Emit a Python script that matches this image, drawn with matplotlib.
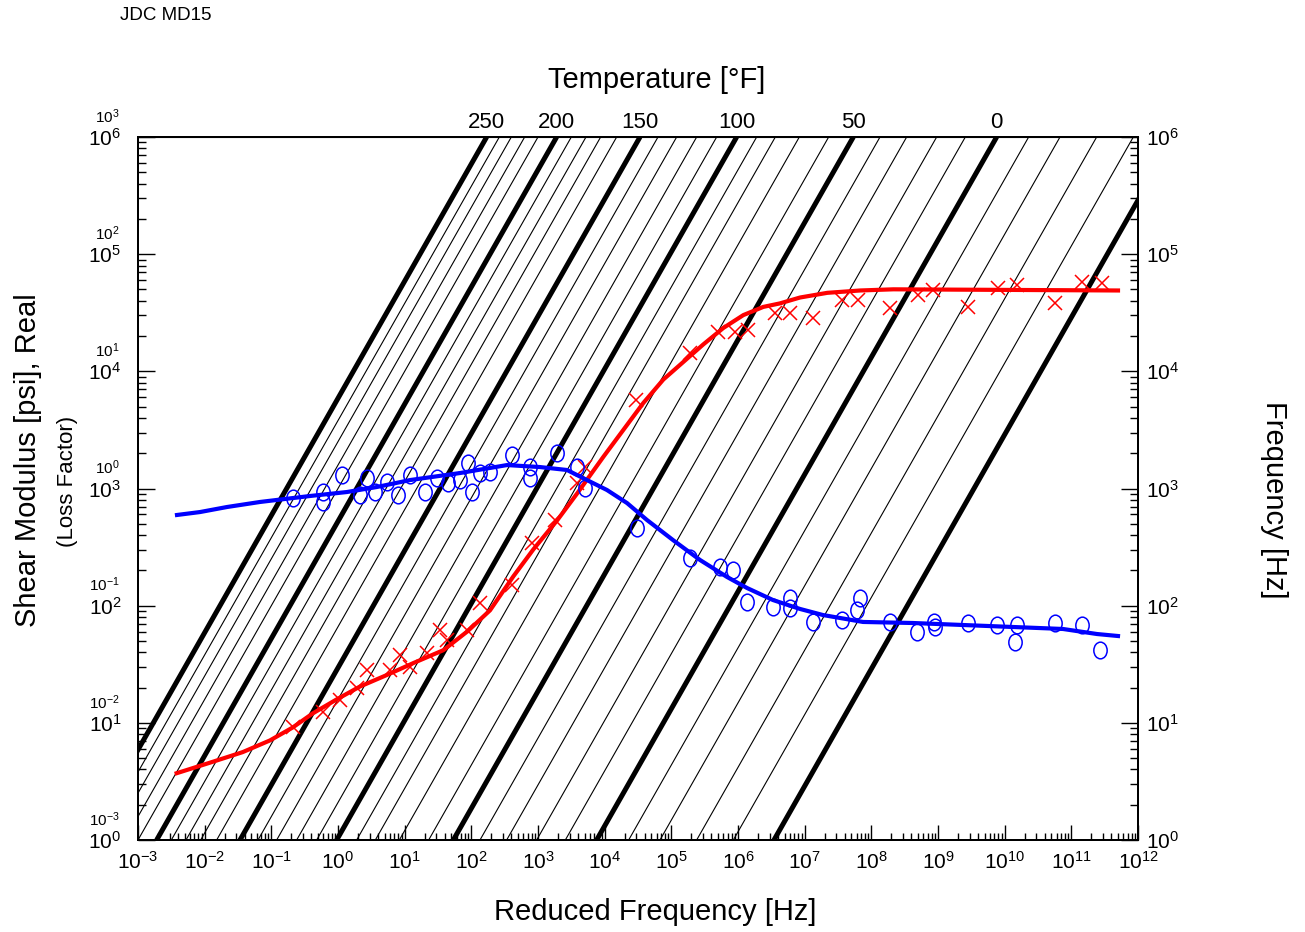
import matplotlib
matplotlib.use("Agg")
import matplotlib.pyplot as plt
import matplotlib.transforms as mtransforms
from matplotlib.path import Path
from matplotlib.ticker import LogLocator, NullLocator, NullFormatter
import numpy as np

plt.rcParams["font.family"] = ["Liberation Sans", "DejaVu Sans"]
plt.rcParams["mathtext.default"] = "regular"

# iso-temperature lines of the nomogram: temperature [F] and log10 of shift factor aT
TEMPS_F = [250, 240, 230, 220, 210, 200, 190, 180, 170, 160, 150, 140, 130, 120, 110,
           100, 90, 80, 70, 60, 50, 40, 30, 20, 10, 0, -10, -20, -30, -40, -50]
LOG_AT = [-3.77, -3.58, -3.40, -3.20, -3.00, -2.72, -2.50, -2.28, -2.06, -1.82, -1.47,
          -1.20, -0.92, -0.62, -0.32, -0.02, 0.28, 0.56, 0.92, 1.36, 1.73, 2.13, 2.53,
          2.98, 3.41, 3.88, 4.36, 4.83, 5.38, 5.93, 6.54]
LABELED_TEMPS = [250, 200, 150, 100, 50, 0]

# storage modulus fit (red line), log10 reduced frequency / log10 G [psi]
RED_FIT_LOGFR = [-2.42, -1.92, -1.43, -1.02, -0.68, -0.38, -0.02, 0.33, 0.74, 1.13, 1.58,
                 1.94, 2.28, 2.63, 2.93, 3.29, 3.59, 3.98, 4.28, 4.58, 4.88, 5.18, 5.48,
                 5.78, 6.08, 6.38, 6.63, 6.93, 7.34, 7.83, 8.33, 11.70]
RED_FIT_LOGG = [0.57, 0.66, 0.75, 0.85, 0.96, 1.08, 1.20, 1.31, 1.41, 1.51, 1.62,
                1.78, 1.96, 2.25, 2.48, 2.73, 2.96, 3.27, 3.50, 3.73, 3.93, 4.08, 4.23,
                4.37, 4.48, 4.55, 4.58, 4.63, 4.67, 4.69, 4.70, 4.69]

# measured storage modulus (red x)
RED_PTS_LOGFR = [-0.675, -0.225, 0.03, 0.285, 0.435, 0.78, 0.93, 1.08, 1.335, 1.53, 1.635,
                 1.935, 2.13, 2.61, 2.91, 3.255, 3.585, 3.705, 4.47, 5.28, 5.7, 5.955,
                 6.15, 6.555, 6.78, 7.125, 7.56, 7.8, 8.28, 8.7, 8.925, 9.45, 9.9, 10.185,
                 10.755, 11.16, 11.46]
RED_PTS_LOGG = [0.964, 1.092, 1.195, 1.297, 1.451, 1.451, 1.579, 1.476, 1.596, 1.792, 1.707,
                1.792, 2.023, 2.176, 2.535, 2.731, 3.047, 3.183, 3.755, 4.156, 4.336, 4.336,
                4.353, 4.498, 4.498, 4.455, 4.609, 4.609, 4.54, 4.651, 4.694, 4.549, 4.711,
                4.737, 4.583, 4.762, 4.754]

# loss factor fit (blue line), log10 reduced frequency / log10 eta
BLUE_FIT_LOGFR = [-2.415, -2.07, -1.665, -1.17, -0.42, 0.135, 0.585, 1.08, 1.83, 2.535, 3.03,
                  3.435, 3.735, 4.035, 4.335, 4.635, 5.025, 5.43, 5.835, 6.135, 6.525, 6.93,
                  7.275, 7.875, 8.625, 10.125, 10.875, 11.385, 11.7]
BLUE_FIT_LOGETA = [-0.226, -0.201, -0.158, -0.115, -0.064, -0.030, 0.013, 0.072, 0.132, 0.200,
                   0.183, 0.158, 0.072, -0.013, -0.124, -0.269, -0.440, -0.610, -0.755, -0.849,
                   -0.952, -1.028, -1.080, -1.139, -1.148, -1.182, -1.199, -1.242, -1.259]

# measured loss factor (blue o)
BLUE_PTS_LOGFR = [-0.675, -0.225, -0.225, 0.06, 0.33, 0.435, 0.555, 0.735, 0.9, 1.08, 1.305,
                  1.485, 1.65, 1.83, 1.95, 2.01, 2.13, 2.28, 2.61, 2.88, 2.88, 3.285, 3.585,
                  3.705, 4.485, 5.28, 5.73, 5.925, 6.135, 6.525, 6.78, 6.78, 7.125, 7.56,
                  7.785, 7.83, 8.28, 8.685, 8.94, 8.955, 9.45, 9.885, 10.185, 10.155, 10.755,
                  11.16, 11.43]
BLUE_PTS_LOGETA = [-0.081, -0.030, -0.115, 0.115, -0.056, 0.090, -0.030, 0.055, -0.056, 0.115,
                   -0.030, 0.090, 0.047, 0.072, 0.218, -0.030, 0.132, 0.141, 0.286, 0.183,
                   0.090, 0.303, 0.183, 0.004, -0.337, -0.593, -0.670, -0.696, -0.969, -1.011,
                   -0.935, -1.020, -1.139, -1.122, -1.037, -0.935, -1.139, -1.225, -1.139,
                   -1.182, -1.148, -1.165, -1.165, -1.310, -1.148, -1.165, -1.378]


def main() -> None:
    fig = plt.figure(figsize=(13.05, 9.32), dpi=100)
    ax_f = fig.add_axes([138 / 1305, 92 / 932, 1000 / 1305, 703 / 932])
    ax_f.set_xscale("log")
    ax_f.set_yscale("log")
    ax_f.set_xlim(1e-3, 1e12)
    ax_f.set_ylim(1e0, 1e6)

    ax_g = ax_f.twinx()
    ax_g.set_yscale("log")
    ax_g.set_ylim(1e0, 1e6)

    ax_eta = ax_f.twinx()
    ax_eta.set_yscale("log")
    ax_eta.set_ylim(1e-3, 1e3)

    # iso-temperature lines: f = fR / aT
    f_lo, f_hi = ax_f.get_ylim()
    for temp, lat in zip(TEMPS_F, LOG_AT):
        thick = temp % 50 == 0
        ax_f.plot([f_lo * 10 ** lat, f_hi * 10 ** lat], [f_lo, f_hi], color="black",
                  lw=3.6 if thick else 0.8, solid_capstyle="butt")

    # tall "O" marker like the original
    oval = Path.unit_circle().transformed(mtransforms.Affine2D().scale(0.8, 1.0))

    ax_g.plot(10 ** np.array(RED_FIT_LOGFR), 10 ** np.array(RED_FIT_LOGG), color="#ff0000", lw=3)
    ax_g.plot(10 ** np.array(RED_PTS_LOGFR), 10 ** np.array(RED_PTS_LOGG), ls="none",
              marker="x", ms=10, mew=1.1, color="#ff0000")
    ax_eta.plot(10 ** np.array(BLUE_FIT_LOGFR), 10 ** np.array(BLUE_FIT_LOGETA), color="#0000ff", lw=3)
    ax_eta.plot(10 ** np.array(BLUE_PTS_LOGFR), 10 ** np.array(BLUE_PTS_LOGETA), ls="none",
                marker=oval, ms=12, mew=1.1, mfc="none", color="#0000ff")

    # axes/ticks
    ax_f.set_xticks([10.0 ** k for k in range(-3, 13)])
    ax_f.xaxis.set_minor_locator(LogLocator(base=10, subs=np.arange(2, 10), numticks=200))
    ax_f.xaxis.set_minor_formatter(NullFormatter())
    for a in (ax_f, ax_g):
        a.set_yticks([10.0 ** k for k in range(0, 7)])
        a.yaxis.set_minor_locator(LogLocator(base=10, subs=np.arange(2, 10), numticks=200))
        a.yaxis.set_minor_formatter(NullFormatter())
    ax_f.yaxis.tick_right()
    ax_g.yaxis.tick_left()
    ax_f.tick_params(axis="x", which="both", direction="in", top=False, labelsize=15, pad=8)
    ax_f.tick_params(axis="x", which="major", length=11, width=1)
    ax_f.tick_params(axis="x", which="minor", length=5, width=1)
    ax_f.tick_params(axis="y", which="major", direction="in", length=12, width=1, labelsize=15, pad=6)
    ax_f.tick_params(axis="y", which="minor", direction="in", length=6, width=1)
    ax_g.tick_params(axis="y", which="major", direction="in", length=12, width=1, labelsize=15, pad=12)
    ax_g.tick_params(axis="y", which="minor", direction="in", length=6, width=1)

    ax_eta.yaxis.tick_left()
    ax_eta.set_yticks([10.0 ** k for k in range(-3, 4)])
    ax_eta.yaxis.set_minor_locator(NullLocator())
    ax_eta.tick_params(axis="y", which="major", length=0, labelsize=11, pad=13)
    shift = mtransforms.ScaledTranslation(0, 0.22, fig.dpi_scale_trans)
    for lab in ax_eta.get_yticklabels():
        lab.set_transform(lab.get_transform() + shift)

    for a in (ax_f, ax_g, ax_eta):
        for sp in a.spines.values():
            sp.set_linewidth(1.3)

    # temperature scale on top
    lat_of = dict(zip(TEMPS_F, LOG_AT))
    ax_t = ax_f.secondary_xaxis("top")
    ax_t.set_xticks([f_hi * 10 ** lat_of[t] for t in LABELED_TEMPS], [str(t) for t in LABELED_TEMPS])
    ax_t.xaxis.set_minor_locator(NullLocator())
    ax_t.tick_params(axis="x", length=0, labelsize=16, pad=3)
    ax_t.set_xlabel("Temperature [°F]", fontsize=21, va="center")
    ax_t.xaxis.set_label_coords(0.519, 1.081, transform=ax_f.transAxes)

    ax_f.set_xlabel("Reduced Frequency [Hz]", fontsize=21, va="center")
    ax_f.xaxis.set_label_coords(0.517, -0.102)
    ax_f.set_ylabel("Frequency [Hz]", fontsize=21, rotation=-90, va="center")
    ax_f.yaxis.set_label_position("right")
    ax_f.yaxis.set_label_coords(1.150, 0.484)
    ax_g.set_ylabel("Shear Modulus [psi], Real", fontsize=21, va="center")
    ax_g.yaxis.set_label_coords(-0.110, 0.54)
    ax_eta.set_ylabel("(Loss Factor)", fontsize=16, va="center")
    ax_eta.yaxis.set_label_position("left")
    ax_eta.yaxis.set_label_coords(-0.060, 0.51)

    fig.text(120 / 1305, 1 - 15 / 932, "JDC MD15", fontsize=13.5, va="center")

    fig.savefig("out.png", dpi=100)


if __name__ == "__main__":
    main()
